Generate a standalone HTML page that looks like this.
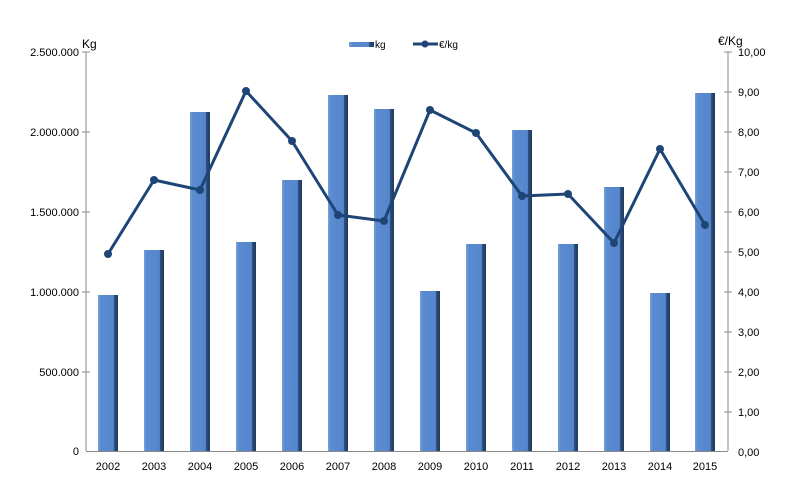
<!DOCTYPE html>
<html><head><meta charset="utf-8"><style>
body{margin:0;background:#fff;}
svg text{font-family:"Liberation Sans",sans-serif;font-size:11px;fill:#000;}
</style></head><body>
<svg width="800" height="498" xmlns="http://www.w3.org/2000/svg">
<defs>
<linearGradient id="bg" x1="0" x2="1" y1="0" y2="0">
<stop offset="0" stop-color="#7aa3dc"/><stop offset="0.12" stop-color="#5b8bd0"/><stop offset="0.78" stop-color="#5585cc"/><stop offset="0.82" stop-color="#2c4d78"/><stop offset="1" stop-color="#1f3a5e"/>
</linearGradient>
</defs>
<line x1="86" y1="52" x2="86" y2="451" stroke="#888"/>
<line x1="728" y1="52" x2="728" y2="451" stroke="#888"/>
<line x1="86" y1="451.5" x2="728" y2="451.5" stroke="#888"/>
<g stroke="#888">
<line x1="82" y1="52" x2="90" y2="52"/><line x1="82" y1="132" x2="90" y2="132"/><line x1="82" y1="212" x2="90" y2="212"/><line x1="82" y1="292" x2="90" y2="292"/><line x1="82" y1="372" x2="90" y2="372"/>
<line x1="724" y1="52" x2="732" y2="52"/><line x1="724" y1="92" x2="732" y2="92"/><line x1="724" y1="132" x2="732" y2="132"/><line x1="724" y1="172" x2="732" y2="172"/><line x1="724" y1="212" x2="732" y2="212"/><line x1="724" y1="252" x2="732" y2="252"/><line x1="724" y1="292" x2="732" y2="292"/><line x1="724" y1="332" x2="732" y2="332"/><line x1="724" y1="372" x2="732" y2="372"/><line x1="724" y1="412" x2="732" y2="412"/>
</g>
<g text-anchor="end">
<text x="79" y="56">2.500.000</text><text x="79" y="136">2.000.000</text><text x="79" y="216">1.500.000</text><text x="79" y="296">1.000.000</text><text x="79" y="376">500.000</text><text x="79" y="455">0</text>
</g>
<g>
<text x="738" y="56">10,00</text><text x="738" y="96">9,00</text><text x="738" y="136">8,00</text><text x="738" y="176">7,00</text><text x="738" y="216">6,00</text><text x="738" y="256">5,00</text><text x="738" y="296">4,00</text><text x="738" y="336">3,00</text><text x="738" y="376">2,00</text><text x="738" y="416">1,00</text><text x="738" y="456">0,00</text>
</g>
<text x="82" y="48" style="font-size:12px">Kg</text>
<text x="718" y="45" style="font-size:12px">€/Kg</text>
<g fill="url(#bg)">
<rect x="98" y="295" width="20" height="156"/>
<rect x="144" y="250" width="20" height="201"/>
<rect x="190" y="112" width="20" height="339"/>
<rect x="236" y="242" width="20" height="209"/>
<rect x="282" y="180" width="20" height="271"/>
<rect x="328" y="95" width="20" height="356"/>
<rect x="374" y="109" width="20" height="342"/>
<rect x="420" y="291" width="20" height="160"/>
<rect x="466" y="244" width="20" height="207"/>
<rect x="512" y="130" width="20" height="321"/>
<rect x="558" y="244" width="20" height="207"/>
<rect x="604" y="187" width="20" height="264"/>
<rect x="650" y="293" width="20" height="158"/>
<rect x="695" y="93" width="20" height="358"/>
</g>
<polyline fill="none" stroke="#1f4577" stroke-width="3" stroke-linejoin="round" points="108,254 154,180 200,190 246,91 292,141 338,215 384,221 430,110 476,133 522,196 568,194 614,243 660,149 705,225"/>
<g fill="#1f4577">
<circle cx="108" cy="254" r="4"/><circle cx="154" cy="180" r="4"/><circle cx="200" cy="190" r="4"/><circle cx="246" cy="91" r="4"/><circle cx="292" cy="141" r="4"/><circle cx="338" cy="215" r="4"/><circle cx="384" cy="221" r="4"/><circle cx="430" cy="110" r="4"/><circle cx="476" cy="133" r="4"/><circle cx="522" cy="196" r="4"/><circle cx="568" cy="194" r="4"/><circle cx="614" cy="243" r="4"/><circle cx="660" cy="149" r="4"/><circle cx="705" cy="225" r="4"/>
</g>
<g text-anchor="middle">
<text x="108" y="470">2002</text><text x="154" y="470">2003</text><text x="200" y="470">2004</text><text x="246" y="470">2005</text><text x="292" y="470">2006</text><text x="338" y="470">2007</text><text x="384" y="470">2008</text><text x="430" y="470">2009</text><text x="476" y="470">2010</text><text x="522" y="470">2011</text><text x="568" y="470">2012</text><text x="614" y="470">2013</text><text x="660" y="470">2014</text><text x="705" y="470">2015</text>
</g>
<rect x="349" y="42" width="25" height="5" fill="url(#bg)"/>
<text x="375" y="48" style="font-size:10px">kg</text>
<line x1="413" y1="44" x2="438" y2="44" stroke="#1f4577" stroke-width="3"/>
<circle cx="425" cy="44" r="3.5" fill="#1f4577"/>
<text x="439" y="48" style="font-size:10px">€/kg</text>
</svg>
</body></html>
